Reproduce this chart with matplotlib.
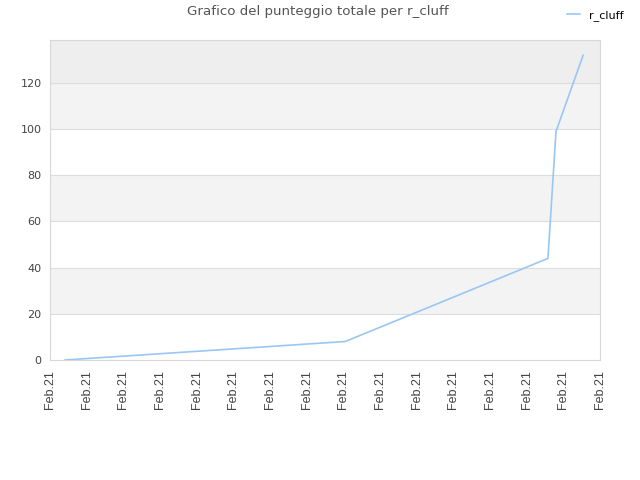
import matplotlib
matplotlib.use('Agg')
import matplotlib.pyplot as plt

# data (x in tick units, one tick = one "Feb.21" label)
xvals = [0.41, 1.36, 2.32, 3.27, 4.23, 5.18, 6.14, 7.09, 8.05, 13.58, 13.8, 14.54]
scores = [0, 1, 2, 3, 4, 5, 6, 7, 8, 44, 99, 132]
tick_pos = list(range(16))
tick_labels = ['Feb.21'] * 16
yticks = [0, 20, 40, 60, 80, 100, 120]

fig = plt.figure(figsize=(6.4, 4.8), dpi=100)
ax = fig.add_axes([50/640, 120/480, 550/640, 320/480])

# alternating background bands
ymax = 138.6
bands = [(20, 40, '#f3f3f3'), (60, 80, '#f3f3f3'), (100, 120, '#f3f3f3'), (120, ymax, '#eeeeee')]
for lo, hi, c in bands:
    ax.axhspan(lo, hi, color=c, zorder=0, lw=0)
for y in yticks[1:]:
    ax.axhline(y, color='#dddddd', lw=0.8, zorder=1)

ax.plot(xvals, scores, color='#99c7f4', lw=1.2, label='r_cluff', zorder=3)

ax.set_xlim(0, 15)
ax.set_ylim(0, ymax)
ax.set_xticks(tick_pos)
ax.set_xticklabels(tick_labels, rotation=90, fontsize=9, color='#444444', family='Liberation Sans')
ax.set_yticks(yticks)
ax.tick_params(axis='y', labelsize=8, labelcolor='#444444', length=0, pad=6)
ax.tick_params(axis='x', length=0, pad=7)
for s in ax.spines.values():
    s.set_color('#d8d8d8')

fig.text(0.497, 0.975, 'Grafico del punteggio totale per r_cluff', ha='center', va='center',
         fontsize=9.6, color='#555555')
fig.legend(loc='upper right', bbox_to_anchor=(0.99, 1.0), frameon=False, fontsize=8,
           handlelength=1.2)

fig.savefig('out.png', dpi=100)
